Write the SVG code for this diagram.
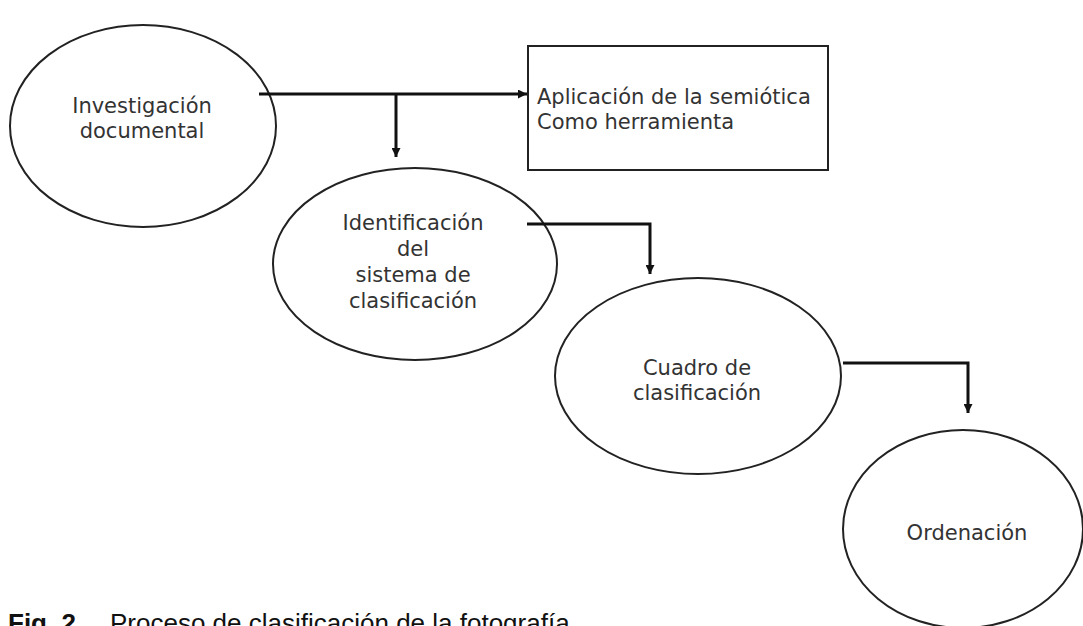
<svg xmlns="http://www.w3.org/2000/svg" width="1083" height="626" viewBox="0 0 1083 626">
  <style>
    .node { fill: #ffffff; stroke: #222222; stroke-width: 2; }
    .lbl { font-family: "DejaVu Sans", Verdana, sans-serif; font-size: 21px; fill: #333333; text-anchor: middle; }
    .lbl-left { font-family: "DejaVu Sans", Verdana, sans-serif; font-size: 21px; fill: #333333; }
    .conn { fill: none; stroke: #111111; stroke-width: 3; }
    .cap { font-family: "Liberation Sans", Arial, sans-serif; font-size: 26px; fill: #111111; }
  </style>
  <defs>
    <marker id="arrow" viewBox="0 0 10 10" refX="10" refY="5" markerWidth="10" markerHeight="9" markerUnits="userSpaceOnUse" orient="auto">
      <path d="M0,0 L10,5 L0,10 Z" fill="#111111"/>
    </marker>
  </defs>
  <rect width="1083" height="626" fill="#ffffff"/>

  <g id="n-investigacion">
    <ellipse class="node" cx="143" cy="126" rx="133" ry="101"/>
    <text class="lbl" x="142" y="113">Investigación</text>
    <text class="lbl" x="142" y="138">documental</text>
  </g>

  <g id="n-aplicacion">
    <rect class="node" x="528" y="46" width="300" height="124"/>
    <text class="lbl-left" x="537" y="104">Aplicación de la semiótica</text>
    <text class="lbl-left" x="537" y="129">Como herramienta</text>
  </g>

  <g id="n-identificacion">
    <ellipse class="node" cx="415" cy="264" rx="142" ry="96"/>
    <text class="lbl" x="413" y="230">Identificación</text>
    <text class="lbl" x="413" y="256">del</text>
    <text class="lbl" x="413" y="282">sistema de</text>
    <text class="lbl" x="413" y="308">clasificación</text>
  </g>

  <g id="n-cuadro">
    <ellipse class="node" cx="698" cy="376" rx="143" ry="98"/>
    <text class="lbl" x="697" y="375">Cuadro de</text>
    <text class="lbl" x="697" y="400">clasificación</text>
  </g>

  <g id="n-ordenacion">
    <ellipse class="node" cx="963" cy="529" rx="120" ry="99"/>
    <text class="lbl" x="967" y="540">Ordenación</text>
  </g>

  <g id="connectors">
    <path class="conn" d="M259,94 H527" marker-end="url(#arrow)"/>
    <path class="conn" d="M396,94 V157" marker-end="url(#arrow)"/>
    <path class="conn" d="M527,224 H650 V274" marker-end="url(#arrow)"/>
    <path class="conn" d="M843,363 H968 V413" marker-end="url(#arrow)"/>
  </g>

  <g id="caption">
    <text class="cap" x="8" y="632"><tspan font-weight="bold">Fig. 2</tspan></text>
    <text class="cap" x="110" y="632">Proceso de clasificación de la fotografía</text>
  </g>
</svg>
